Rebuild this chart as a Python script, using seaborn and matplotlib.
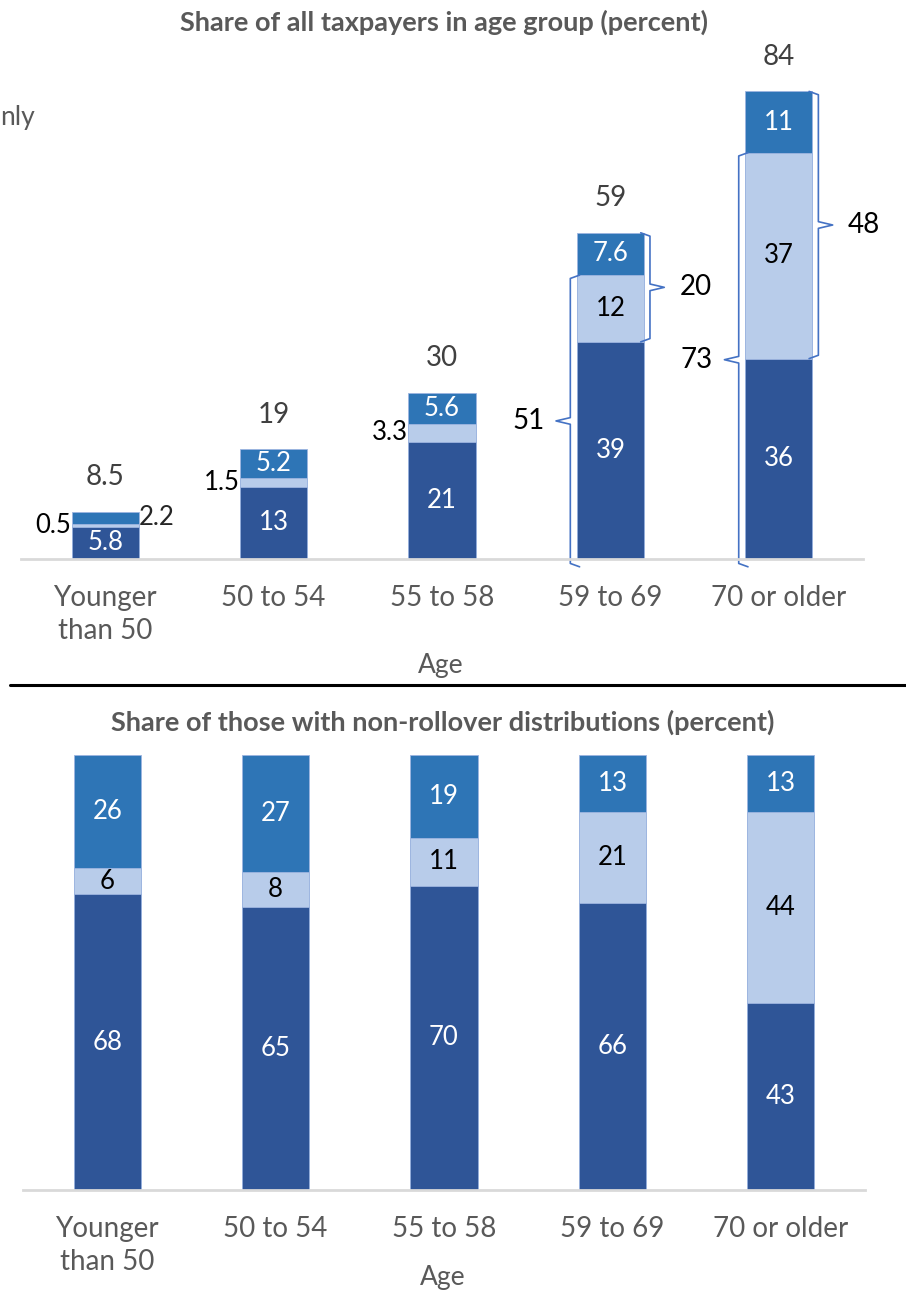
import seaborn as sns
import matplotlib.pyplot as plt
import pandas as pd
from matplotlib.lines import Line2D

# categories
age_groups = ["Younger\nthan 50", "50 to 54", "55 to 58", "59 to 69", "70 or older"]

# top panel: share of all taxpayers in age group (percent)
top_dark = [5.8, 13, 21, 39, 36]
top_light = [0.5, 1.5, 3.3, 12, 37]
top_mid = [2.2, 5.2, 5.6, 7.6, 11]
top_totals = [8.5, 19, 30, 59, 84]

# brackets on the last two groups (group index, dark+light, light+mid)
bracket_groups = [3, 4]
bracket_left_vals = [51, 73]
bracket_right_vals = [20, 48]

# bottom panel: share of those with non-rollover distributions (percent)
bot_dark = [68, 65, 70, 66, 43]
bot_light = [6, 8, 11, 21, 44]
bot_mid = [26, 27, 19, 13, 13]

c_dark = "#2F5597"
c_light = "#B8CCEA"
c_mid = "#2E75B6"
gray = "#595959"

sns.set_style("white")
plt.rcParams["font.family"] = ["Lato", "DejaVu Sans"]

fig = plt.figure(figsize=(9.06, 12.91), dpi=100)
ax_top = fig.add_axes([21 / 906, (1291 - 559) / 1291, 842 / 906, 501 / 1291])
ax_bot = fig.add_axes([23 / 906, (1291 - 1190) / 1291, 842 / 906, 435 / 1291])


def stacked(ax, dark, light, mid, ymax):
    df = pd.DataFrame({"age": age_groups, "dark": dark, "light": light, "mid": mid})
    df["dl"] = df["dark"] + df["light"]
    df["all"] = df["dl"] + df["mid"]
    # stacked bars: draw cumulative heights from tallest to shortest
    for col, colr in [("all", c_mid), ("dl", c_light), ("dark", c_dark)]:
        sns.barplot(data=df, x="age", y=col, color=colr, width=0.4, errorbar=None,
                    saturation=1, edgecolor="#9DB5E0", linewidth=0.6, ax=ax)
    ax.set_xlim(-0.5, 4.5)
    ax.set_ylim(0, ymax)
    ax.set_yticks([])
    ax.set_xlabel("")
    ax.set_ylabel("")
    sns.despine(ax=ax, left=True)
    ax.spines["bottom"].set_color("#D9D9D9")
    ax.spines["bottom"].set_linewidth(2)
    ax.tick_params(axis="x", length=0, pad=19, labelsize=20, labelcolor=gray)
    ax.set_xticks(range(len(age_groups)))
    ax.set_xticklabels(age_groups, linespacing=1.3)
    return df


def seg_labels(ax, df, outside_small):
    for i, r in df.iterrows():
        ax.text(i, r["dark"] / 2, f"{r['dark']:g}", ha="center", va="center",
                color="white", fontsize=18.5)
        ly = r["dark"] + r["light"] / 2
        if outside_small and r["light"] < 4:
            ax.text(i - 0.2, ly, f"{r['light']:g}", ha="right", va="center",
                    color="black", fontsize=18.5)
        else:
            ax.text(i, ly, f"{r['light']:g}", ha="center", va="center",
                    color="black", fontsize=18.5)
        my = r["dl"] + r["mid"] / 2
        if outside_small and r["mid"] < 4:
            ax.text(i + 0.2, my, f"{r['mid']:g}", ha="left", va="center",
                    color="#262626", fontsize=18.5)
        else:
            ax.text(i, my, f"{r['mid']:g}", ha="center", va="center",
                    color="white", fontsize=18.5)


def brace(ax, x, y0, y1, side, label):
    # side=-1: tip points left, hooks right; side=+1 the other way
    hook = 0.055 * -side
    tip = 0.085 * side
    ym = (y0 + y1) / 2
    xs = [x + hook, x, x, x + tip, x, x, x + hook]
    ys = [y0, y0 + 0.6, ym - 0.6, ym, ym + 0.6, y1 - 0.6, y1]
    ax.add_line(Line2D(xs, ys, color="#4472C4", lw=1.2, clip_on=False))
    if side < 0:
        ax.text(x + tip - 0.07, ym, str(label), ha="right", va="center",
                fontsize=20, color="black")
    else:
        ax.text(x + tip + 0.09, ym, str(label), ha="left", va="center",
                fontsize=20, color="black")


# top panel
df_top = stacked(ax_top, top_dark, top_light, top_mid, 90)
seg_labels(ax_top, df_top, True)
for i, r in df_top.iterrows():
    ax_top.text(i, r["all"] + 6.2, f"{top_totals[i]:g}", ha="center", va="center",
                color="#404040", fontsize=20)
for g, lv, rv in zip(bracket_groups, bracket_left_vals, bracket_right_vals):
    r = df_top.iloc[g]
    brace(ax_top, g - 0.238, -1.4, r["dl"], -1, lv)
    brace(ax_top, g + 0.235, r["dark"], r["all"], 1, rv)

# bottom panel
df_bot = stacked(ax_bot, bot_dark, bot_light, bot_mid, 100)
seg_labels(ax_bot, df_bot, False)

# titles and labels
fig.text(444 / 906, 1 - 22 / 1291, "Share of all taxpayers in age group (percent)",
         ha="center", va="center", fontsize=19.5, fontweight="bold", color=gray)
fig.text(443 / 906, 1 - 722 / 1291, "Share of those with non-rollover distributions (percent)",
         ha="center", va="center", fontsize=19.5, fontweight="bold", color=gray)
fig.text(441 / 906, 1 - 665 / 1291, "Age", ha="center", va="center", fontsize=19, color=gray)
fig.text(443 / 906, 1 - 1277 / 1291, "Age", ha="center", va="center", fontsize=19, color=gray)
fig.text(0, 1 - 118 / 1291, "nly", ha="left", va="center", fontsize=19, color=gray)

# divider between the panels
fig.add_artist(Line2D([10 / 906, 1], [1 - 685 / 1291] * 2, color="black", lw=2.2))

fig.savefig("out.png", dpi=100)
